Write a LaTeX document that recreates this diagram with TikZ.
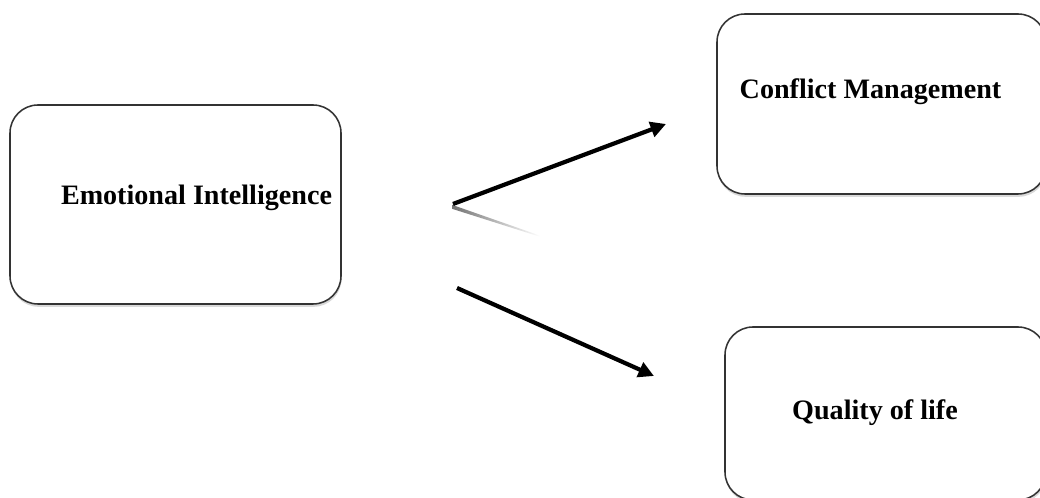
\documentclass[tikz,border=0pt]{standalone}
\usepackage{fontspec}
\setmainfont{Liberation Serif}
\usetikzlibrary{arrows.meta,shadows}

\tikzset{
  box/.style={draw=black!80, line width=1.1pt, rounded corners=0.7cm, fill=white,
    drop shadow={shadow xshift=0.4pt, shadow yshift=-2pt, opacity=0.25, fill=black!60}},
  lbl/.style={font=\fontsize{20}{24}\selectfont\bfseries, anchor=base, inner sep=0pt}
}

\begin{document}
\begin{tikzpicture}
    \useasboundingbox (0,0) rectangle (26,12.45);

    \node[box, minimum width=8.275cm, minimum height=4.975cm] (ei) at (4.3875,7.3375) {};
    \node[box, minimum width=8.225cm, minimum height=4.5cm] (cm) at (22.0375,9.85) {};
    \node[box, minimum width=8.025cm, minimum height=4.325cm] (ql) at (22.1375,2.1125) {};

    \node[lbl] (eitxt) at (4.9125,7.325) {Emotional Intelligence};
    \node[lbl] (cmtxt) at (21.7625,9.975) {Conflict Management};
    \node[lbl] (qltxt) at (21.875,1.95) {Quality of life};

    \coordinate (a1) at (11.325,7.35);
    \coordinate (b1) at (16.65,9.35);
    \coordinate (a2) at (11.425,5.25);
    \coordinate (b2) at (16.35,3.05);

    % reflection under the upper arrow
    \shade[left color=black!55, right color=white]
      (11.3,7.33) -- (13.5,6.56) -- (13.5,6.53) -- (11.3,7.23) -- cycle;

    \path
    (a1) [-{Triangle[length=11pt,width=11pt]},black,line width=3pt] edge (b1)
    (a2) [-{Triangle[length=11pt,width=11pt]},black,line width=3pt] edge (b2);
\end{tikzpicture}
\end{document}
